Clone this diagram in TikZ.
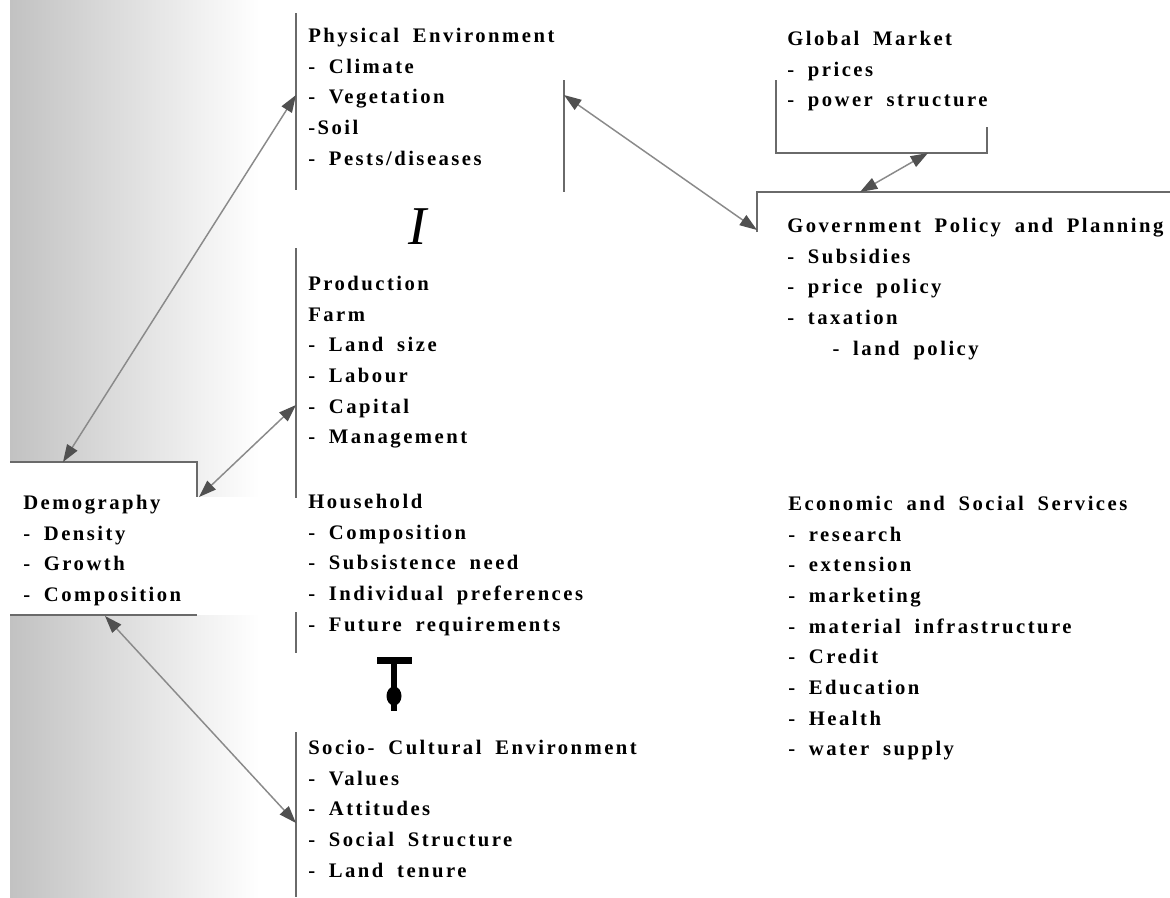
\documentclass[tikz,border=0pt]{standalone}
\usepackage{fontspec}
\setmainfont{Liberation Serif}
\newfontfamily\labfont{Liberation Serif}[LetterSpace=12,WordSpace=1.8]
\usetikzlibrary{arrows.meta}
\definecolor{linegray}{HTML}{6A6A6A}
\definecolor{arrgray}{HTML}{8A8A8A}
\definecolor{headgray}{HTML}{505050}
\tikzset{
  blk/.style={anchor=north west, inner sep=0pt, align=left,
    font=\labfont\bfseries\fontsize{15.5pt}{23pt}\selectfont},
  bracket/.style={draw=linegray, line width=1pt},
  biarrow/.style={draw=arrgray, line width=1.1pt,
    {Triangle[length=13pt,width=9pt,color=headgray]}-{Triangle[length=13pt,width=9pt,color=headgray]}}
}
\begin{document}
\begin{tikzpicture}[x=0.75pt,y=-0.75pt]
\useasboundingbox (0,0) rectangle (1170,897);
\fill[white] (0,0) rectangle (1170,897);
% scanned page shading at the left
\shade[left color=black!24, middle color=black!8, right color=white] (10,0) rectangle (260,897);
\fill[white] (10,462) rectangle (197,615);
\fill[white] (197,497) rectangle (296,615);

% text blocks
\node[blk] (phys) at (308,28) {Physical Environment\\- Climate\\- Vegetation\\-Soil\\- Pests/diseases};
\node[blk] (glob) at (787,31) {Global Market\\- prices\\- power structure};
\node[blk] (gov) at (787,218) {Government Policy and Planning\\- Subsidies\\- price policy\\- taxation\\\hspace*{34pt}- land policy};
\node[blk] (prod) at (308,276) {Production\\Farm\\- Land size\\- Labour\\- Capital\\- Management};
\node[blk] (demo) at (23,495) {Demography\\- Density\\- Growth\\- Composition};
\node[blk] (hh) at (308,494) {Household\\- Composition\\- Subsistence need\\- Individual preferences\\- Future requirements};
\node[blk] (econ) at (788,496) {Economic and Social Services\\- research\\- extension\\- marketing\\- material infrastructure\\- Credit\\- Education\\- Health\\- water supply};
\node[blk] (socio) at (308,740) {Socio- Cultural Environment\\- Values\\- Attitudes\\- Social Structure\\- Land tenure};
\node[inner sep=0pt, font=\itshape\fontsize{41pt}{41pt}\selectfont] (bigI) at (418,227) {I};

% bracket lines
\draw[bracket] (296,13) -- (296,190);
\draw[bracket] (564,80) -- (564,192);
\draw[bracket] (776,80) -- (776,153) -- (987,153) -- (987,127);
\draw[bracket] (757,232) -- (757,192) -- (1170,192);
\draw[bracket] (296,248) -- (296,498);
\draw[bracket] (296,612) -- (296,653);
\draw[bracket] (296,732) -- (296,897);
\draw[bracket] (10,462) -- (197,462) -- (197,497);
\draw[bracket] (10,615) -- (197,615);

% connector end points
\coordinate (demoTop) at (63,462);
\coordinate (physL) at (296,95);
\coordinate (demoCorner) at (199,497);
\coordinate (prodL) at (296,405);
\coordinate (demoBot) at (105,616);
\coordinate (socioL) at (296,823);
\coordinate (physR) at (564,95);
\coordinate (govL) at (757,230);
\coordinate (globB) at (928,153);
\coordinate (govT) at (860,192);

\draw[biarrow] (demoTop) -- (physL);
\draw[biarrow] (demoCorner) -- (prodL);
\draw[biarrow] (demoBot) -- (socioL);
\draw[biarrow] (physR) -- (govL);
\draw[biarrow] (govT) -- (globB);

% T symbol between household and socio-cultural environment
\fill[black] (377,657) rectangle (412,664);
\fill[black] (391,664) rectangle (397,711);
\fill[black] (394,696) ellipse [x radius=7.5, y radius=9.5];
\end{tikzpicture}
\end{document}
